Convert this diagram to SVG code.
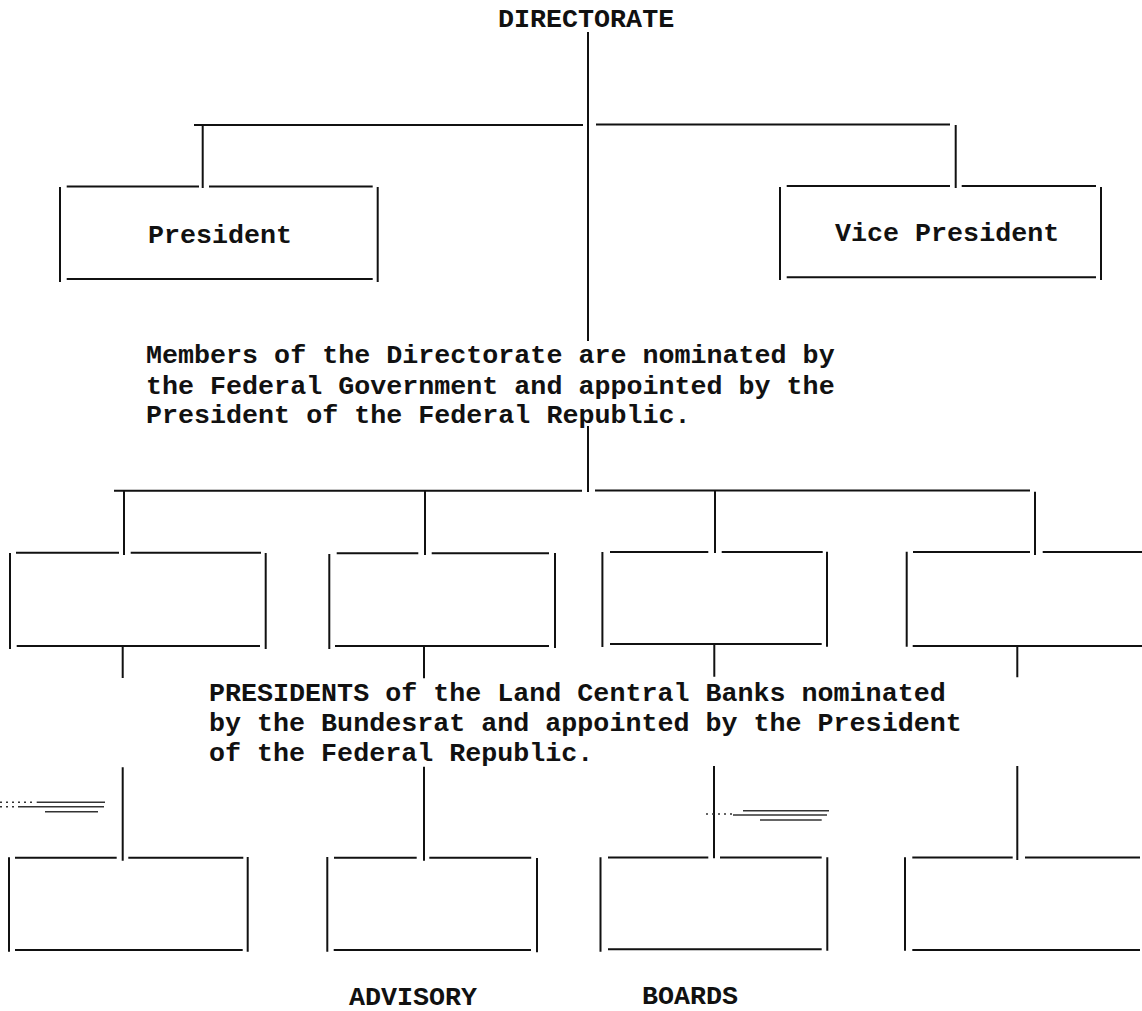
<svg xmlns="http://www.w3.org/2000/svg" width="1142" height="1011" viewBox="0 0 1142 1011">
<style>
.ln{stroke:#111;stroke-width:2;fill:none;stroke-linecap:butt}
.sm{stroke:#333;stroke-width:1.4;fill:none}
.t{font-family:"Liberation Mono","Courier New",monospace;font-size:26.7px;font-weight:bold;fill:#111}
</style>
<rect width="1142" height="1011" fill="#fff"/>
<g id="connectors">
<path class="ln" d="M588,32V341 M588,426V492"/>
<path class="ln" d="M194,125H583 M596,124.5H950"/>
<path class="ln" d="M202.7,125V188 M955.7,125V188"/>
<path class="ln" d="M114,490.7H582 M595,490.5H1030"/>
<path class="ln" d="M124,490.7V555 M425,490.7V555 M715,490V553 M1035,491.7V555"/>
<path class="ln" d="M122.7,646.7V678 M424,646.7V678.3 M714.3,644V676.7 M1017.3,646V677.3"/>
<path class="ln" d="M122.7,767.3V860.7 M424,766.7V860.7 M714,766V858.3 M1017.3,766V860"/>
</g>
<g id="directorate"><text class="t" x="498" y="27.3">DIRECTORATE</text></g>
<g id="president">
<path class="ln" d="M66.7,186.5H199 M209,186.5H372.7 M60,187V282 M377.7,187V282 M66.7,279H372.7"/>
<text class="t" x="148" y="242.7">President</text>
</g>
<g id="vice-president">
<path class="ln" d="M786.7,186H950 M961.7,186H1096 M780,187V280 M1101,187V280 M786.7,277.3H1096"/>
<text class="t" x="835" y="240.7">Vice President</text>
</g>
<g id="note-directorate">
<text class="t" x="146" y="363">Members of the Directorate are nominated by</text>
<text class="t" x="146" y="393.5">the Federal Government and appointed by the</text>
<text class="t" x="146" y="423">President of the Federal Republic.</text>
</g>
<g id="lcb-1"><path class="ln" d="M16,552.7H119 M130.7,552.7H261 M10,553V649 M265.7,553V649 M16.7,646H260"/></g>
<g id="lcb-2"><path class="ln" d="M336.7,553.3H418.3 M431.7,553.3H549 M329.3,554V649 M555,553V648 M335,646H549"/></g>
<g id="lcb-3"><path class="ln" d="M610,552H708.3 M721.7,552H822.7 M602.4,552V647 M827,551.7V646.7 M610,644H821.7"/></g>
<g id="lcb-4"><path class="ln" d="M913,552H1030 M1042.7,552H1142 M906.7,551.7V646.7 M912.7,646H1142"/></g>
<g id="note-presidents">
<text class="t" x="209" y="700.5">PRESIDENTS of the Land Central Banks nominated</text>
<text class="t" x="209" y="730.5">by the Bundesrat and appointed by the President</text>
<text class="t" x="209" y="760.5">of the Federal Republic.</text>
</g>
<g id="board-1"><path class="ln" d="M15,857.7H116.7 M128.3,857.7H243.3 M9,857.3V951.7 M247.7,857V951.7 M15,950H242.7"/></g>
<g id="board-2"><path class="ln" d="M334,857.7H416.7 M429.3,857.7H531.2 M327.3,857V951.7 M537,858V952.3 M333.7,950H531"/></g>
<g id="board-3"><path class="ln" d="M608,857.5H708.3 M720,857.5H821.7 M600.5,857.3V951.7 M827.3,857.3V950.7 M608,949.3H821.7"/></g>
<g id="board-4"><path class="ln" d="M912.3,857.5H1012.7 M1025,857.5H1140 M905,857.3V950.7 M912.3,950H1140"/></g>
<g id="labels">
<text class="t" x="349" y="1005">ADVISORY</text>
<text class="t" x="642" y="1004">BOARDS</text>
</g>
<g id="marks">
<path class="sm" d="M36.7,802.3H105 M18,806.7H104 M45,811.7H98" />
<path class="sm" stroke-dasharray="2,4" d="M0,802.3H35 M0,806.7H18"/>
<path class="sm" d="M743,810.7H829 M733,815H827 M760,820H821.7"/>
<path class="sm" stroke-dasharray="2,4" d="M706,814H733"/>
</g>
</svg>
